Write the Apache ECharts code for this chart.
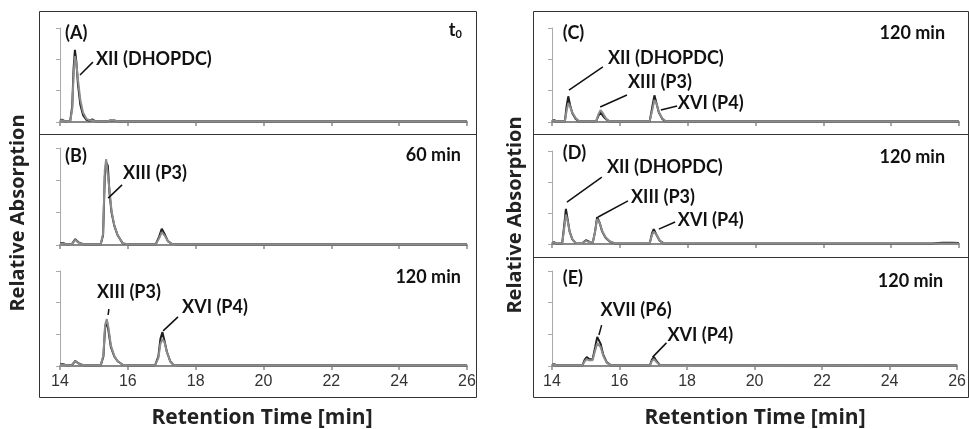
<!DOCTYPE html>
<html>
<head>
<meta charset="utf-8">
<script src="https://cdn.jsdelivr.net/npm/echarts@6/dist/echarts.min.js"></script>
<style>
  html, body { margin: 0; padding: 0; background: #fff; }
  #main { width: 969px; height: 429px; }
</style>
</head>
<body>
<div id="main"></div>
<script>
// retention time axis
var xTicks = { min: 14, max: 26, interval: 2 };

// (A) t0
var timeA  = [14.0, 14.06, 14.15, 14.3, 14.36, 14.4, 14.44, 14.48, 14.53, 14.6, 14.68, 14.78, 14.88, 14.95, 15.05, 15.4, 15.48, 15.6, 15.7, 16.0, 26.0];
var blackA = [0.04, 0.08, 0.02, 0.03, 0.5, 1.7, 2.3, 1.95, 1.2, 0.55, 0.22, 0.07, 0.04, 0.08, 0.02, 0.02, 0.05, 0.05, 0.02, 0.02, 0.02];
var grayA  = [0.03, 0.06, 0.02, 0.03, 0.4, 1.5, 2.1, 1.9, 1.35, 0.7, 0.3, 0.1, 0.05, 0.06, 0.02, 0.02, 0.05, 0.05, 0.02, 0.02, 0.02];

// (B) 60 min
var timeB  = [14.0, 14.1, 14.2, 14.35, 14.45, 14.55, 14.7, 15.2, 15.27, 15.32, 15.36, 15.41, 15.46, 15.52, 15.6, 15.7, 15.85, 16.0, 16.82, 16.92, 17.0, 17.08, 17.18, 17.3, 17.5, 26.0];
var blackB = [0.06, 0.06, 0.02, 0.03, 0.18, 0.08, 0.02, 0.02, 0.3, 2.1, 2.55, 2.45, 1.6, 1.0, 0.6, 0.3, 0.05, 0.02, 0.02, 0.25, 0.5, 0.35, 0.12, 0.03, 0.02, 0.02];
var grayB  = [0.05, 0.05, 0.02, 0.03, 0.16, 0.07, 0.02, 0.02, 0.35, 2.3, 2.66, 2.6, 1.7, 1.05, 0.62, 0.3, 0.05, 0.02, 0.02, 0.2, 0.4, 0.3, 0.12, 0.03, 0.02, 0.02];

// (B) 120 min
var timeB2  = [14.0, 14.1, 14.2, 14.35, 14.45, 14.55, 14.7, 15.2, 15.28, 15.33, 15.38, 15.43, 15.5, 15.6, 15.7, 15.85, 16.0, 16.8, 16.9, 16.96, 17.02, 17.08, 17.15, 17.25, 17.35, 17.6, 17.65, 17.7, 26.0];
var blackB2 = [0.06, 0.06, 0.02, 0.03, 0.16, 0.08, 0.02, 0.02, 0.3, 1.2, 1.42, 1.1, 0.6, 0.3, 0.15, 0.04, 0.02, 0.02, 0.3, 0.85, 1.07, 0.8, 0.45, 0.15, 0.03, 0.02, 0.05, 0.02, 0.02];
var grayB2  = [0.05, 0.05, 0.02, 0.03, 0.15, 0.07, 0.02, 0.02, 0.35, 1.3, 1.48, 1.2, 0.65, 0.32, 0.15, 0.04, 0.02, 0.02, 0.25, 0.7, 0.85, 0.75, 0.45, 0.15, 0.03, 0.02, 0.05, 0.02, 0.02];

// (C) 120 min
var timeC  = [14.0, 14.06, 14.12, 14.38, 14.43, 14.48, 14.53, 14.6, 14.7, 14.8, 15.3, 15.37, 15.43, 15.5, 15.6, 15.7, 16.88, 16.96, 17.02, 17.08, 17.15, 17.25, 17.35, 26.0];
var blackC = [0.02, 0.07, 0.02, 0.02, 0.5, 0.82, 0.55, 0.28, 0.1, 0.02, 0.02, 0.2, 0.3, 0.2, 0.08, 0.02, 0.02, 0.5, 0.85, 0.6, 0.3, 0.1, 0.02, 0.02];
var grayC  = [0.02, 0.06, 0.02, 0.02, 0.35, 0.6, 0.5, 0.3, 0.12, 0.02, 0.02, 0.25, 0.38, 0.28, 0.1, 0.02, 0.02, 0.4, 0.7, 0.6, 0.32, 0.12, 0.02, 0.02];

// (D) 120 min
var timeD  = [14.0, 14.06, 14.12, 14.3, 14.36, 14.41, 14.46, 14.52, 14.6, 14.7, 14.9, 15.0, 15.08, 15.2, 15.27, 15.33, 15.4, 15.48, 15.58, 15.7, 15.85, 16.88, 16.95, 17.0, 17.08, 17.18, 17.3, 25.2, 25.25, 25.5, 25.55, 25.8, 25.85, 26.0];
var blackD = [0.02, 0.06, 0.02, 0.02, 0.6, 1.13, 0.8, 0.4, 0.15, 0.03, 0.03, 0.12, 0.08, 0.03, 0.4, 0.87, 0.7, 0.4, 0.2, 0.08, 0.02, 0.02, 0.35, 0.48, 0.3, 0.1, 0.02, 0.02, 0.04, 0.04, 0.02, 0.04, 0.04, 0.03];
var grayD  = [0.02, 0.05, 0.02, 0.02, 0.5, 0.95, 0.75, 0.4, 0.16, 0.03, 0.03, 0.1, 0.07, 0.03, 0.4, 0.8, 0.7, 0.42, 0.22, 0.09, 0.02, 0.02, 0.3, 0.4, 0.3, 0.1, 0.02, 0.02, 0.02, 0.02, 0.02, 0.02, 0.02, 0.02];

// (E) 120 min
var timeE  = [14.0, 14.06, 14.12, 14.9, 14.97, 15.03, 15.1, 15.2, 15.28, 15.34, 15.38, 15.44, 15.52, 15.62, 15.75, 16.9, 16.96, 17.02, 17.1, 17.2, 26.0];
var blackE = [0.03, 0.07, 0.02, 0.02, 0.2, 0.28, 0.22, 0.2, 0.6, 0.92, 0.95, 0.7, 0.35, 0.12, 0.02, 0.02, 0.2, 0.28, 0.15, 0.03, 0.02];
var grayE  = [0.03, 0.06, 0.02, 0.02, 0.15, 0.22, 0.18, 0.18, 0.5, 0.72, 0.75, 0.6, 0.32, 0.1, 0.02, 0.02, 0.16, 0.22, 0.12, 0.03, 0.02];

var labelFont = 'Lato';
var tickFont = 'Liberation Sans';

// panel layout: grid box in pixels, traces, annotations [text, x, y, side], leader lines
var panels = [
  { grid: { left: 60, top: 28, width: 407, height: 94 }, labels: false,
    t: timeA, k: blackA, g: grayA,
    notes: [['(A)', 14.15, 2.84, 'right'], ['XII (DHOPDC)', 15.06, 2.01, 'right'], ['{t|t}{s|0}', 25.85, 2.94, 'left']],
    leaders: [[14.59, 1.5, 14.97, 1.91]] },
  { grid: { left: 60, top: 148, width: 407, height: 97 }, labels: false,
    t: timeB, k: blackB, g: grayB,
    notes: [['(B)', 14.15, 2.75, 'right'], ['XIII (P3)', 15.86, 2.23, 'right'], ['60 min', 25.82, 2.78, 'left']],
    leaders: [[15.42, 1.45, 15.83, 1.86]] },
  { grid: { left: 60, top: 271, width: 407, height: 95 }, labels: true,
    t: timeB2, k: blackB2, g: grayB2,
    notes: [['XIII (P3)', 15.09, 2.34, 'right'], ['XVI (P4)', 17.6, 1.86, 'right'], ['120 min', 25.82, 2.81, 'left']],
    leaders: [[15.42, 1.61, 15.44, 1.8], [17.04, 1.11, 17.48, 1.55]] },
  { grid: { left: 552, top: 28, width: 407, height: 94 }, labels: false,
    t: timeC, k: blackC, g: grayC,
    notes: [['(C)', 14.32, 2.84, 'right'], ['XII (DHOPDC)', 15.65, 2.04, 'right'], ['XIII (P3)', 16.24, 1.28, 'right'], ['XVI (P4)', 17.71, 0.61, 'right'], ['120 min', 25.59, 2.84, 'left']],
    leaders: [[14.5, 1.02, 15.5, 1.76], [15.42, 0.48, 16.21, 0.86], [17.21, 0.38, 17.69, 0.51]] },
  { grid: { left: 552, top: 151, width: 407, height: 93 }, labels: false,
    t: timeD, k: blackD, g: grayD,
    notes: [['(D)', 14.32, 2.94, 'right'], ['XII (DHOPDC)', 15.62, 2.48, 'right'], ['XIII (P3)', 16.33, 1.52, 'right'], ['XVI (P4)', 17.71, 0.77, 'right'], ['120 min', 25.59, 2.81, 'left']],
    leaders: [[14.44, 1.35, 15.47, 2.16], [15.36, 0.87, 16.24, 1.39], [17.15, 0.48, 17.63, 0.71]] },
  { grid: { left: 552, top: 271, width: 407, height: 95 }, labels: true,
    t: timeE, k: blackE, g: grayE,
    notes: [['(E)', 14.32, 2.78, 'right'], ['XVII (P6)', 15.44, 1.77, 'right'], ['XVI (P4)', 17.42, 0.98, 'right'], ['120 min', 25.59, 2.68, 'left']],
    leaders: [[15.39, 0.98, 15.47, 1.29], [16.98, 0.28, 17.39, 0.73]] }
];

function pairs(t, v) {
  return t.map(function (x, i) { return [x, v[i]]; });
}

var grids = [], xAxes = [], yAxes = [], series = [];
panels.forEach(function (p, i) {
  grids.push(p.grid);
  xAxes.push({
    type: 'value', gridIndex: i, min: xTicks.min, max: xTicks.max, interval: xTicks.interval,
    axisLine: { show: true, lineStyle: { color: '#8a8a8a', width: 2 } },
    axisTick: { show: true, length: 4, lineStyle: { color: '#8a8a8a', width: 1.5 } },
    axisLabel: { show: p.labels, fontFamily: tickFont, fontSize: 16, color: '#333', margin: 8 },
    splitLine: { show: false }
  });
  yAxes.push({
    type: 'value', gridIndex: i, min: 0, max: 3, interval: 1,
    axisLine: { show: true, lineStyle: { color: '#aaa', width: 1 } },
    axisTick: { show: true, length: 4, lineStyle: { color: '#aaa' } },
    axisLabel: { show: false },
    splitLine: { show: false }
  });
  series.push({
    type: 'line', xAxisIndex: i, yAxisIndex: i, data: pairs(p.t, p.k),
    showSymbol: false, lineStyle: { color: '#1e1e1e', width: 2 }, z: 2,
    markLine: {
      silent: true, symbol: 'none', animation: false,
      label: { show: false },
      lineStyle: { color: '#111', width: 1.5, type: 'solid' },
      data: p.leaders.map(function (l) { return [{ coord: [l[0], l[1]] }, { coord: [l[2], l[3]] }]; })
    }
  });
  series.push({
    type: 'line', xAxisIndex: i, yAxisIndex: i, data: pairs(p.t, p.g),
    showSymbol: false, lineStyle: { color: '#8c8c8c', width: 2 }, z: 3,
    markPoint: {
      silent: true, animation: false, symbol: 'circle', symbolSize: 0,
      data: p.notes.map(function (n) {
        return {
          coord: [n[1], n[2]],
          label: {
            show: true, position: n[3], distance: 0, formatter: n[0],
            fontFamily: labelFont, fontWeight: 'bold', fontSize: 18, color: '#111',
            rich: {
              t: { fontFamily: labelFont, fontWeight: 'bold', fontSize: 18, color: '#111' },
              s: { fontFamily: labelFont, fontWeight: 'bold', fontSize: 11, color: '#111', verticalAlign: 'bottom', padding: [10, 0, 0, 0] }
            }
          }
        };
      })
    }
  });
});

var option = {
  animation: false,
  grid: grids,
  xAxis: xAxes,
  yAxis: yAxes,
  series: series,
  graphic: [
    { type: 'rect', shape: { x: 39.5, y: 11.5, width: 437, height: 386 }, style: { fill: 'none', stroke: '#333', lineWidth: 1 }, silent: true },
    { type: 'rect', shape: { x: 533.5, y: 11.5, width: 435, height: 386 }, style: { fill: 'none', stroke: '#333', lineWidth: 1 }, silent: true },
    { type: 'line', shape: { x1: 39.5, y1: 134.5, x2: 476.5, y2: 134.5 }, style: { stroke: '#333', lineWidth: 1 }, silent: true },
    { type: 'line', shape: { x1: 533.5, y1: 134.5, x2: 968.5, y2: 134.5 }, style: { stroke: '#333', lineWidth: 1 }, silent: true },
    { type: 'line', shape: { x1: 533.5, y1: 257.5, x2: 968.5, y2: 257.5 }, style: { stroke: '#333', lineWidth: 1 }, silent: true },
    { type: 'text', x: 262, y: 418, style: { text: 'Retention Time [min]', font: 'bold 21px "Open Sans"', fill: '#222', align: 'center', verticalAlign: 'middle' } },
    { type: 'text', x: 755, y: 418, style: { text: 'Retention Time [min]', font: 'bold 21px "Open Sans"', fill: '#222', align: 'center', verticalAlign: 'middle' } },
    { type: 'text', x: 18, y: 213, rotation: Math.PI / 2, style: { text: 'Relative Absorption', font: 'bold 20px "Open Sans"', fill: '#222', align: 'center', verticalAlign: 'middle' } },
    { type: 'text', x: 515, y: 215, rotation: Math.PI / 2, style: { text: 'Relative Absorption', font: 'bold 20px "Open Sans"', fill: '#222', align: 'center', verticalAlign: 'middle' } }
  ]
};

var myChart = echarts.init(document.getElementById('main'));
myChart.setOption(option);
</script>
</body>
</html>
